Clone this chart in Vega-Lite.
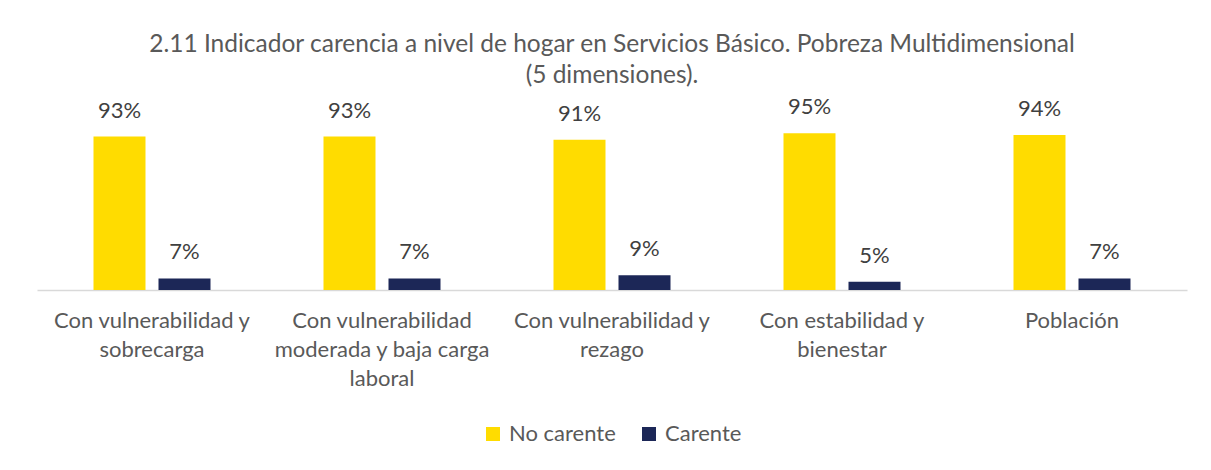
{
  "$schema": "https://vega.github.io/schema/vega-lite/v6.json",
  "autosize": {"type": "none"},
  "width": 1150,
  "height": 165,
  "padding": {"left": 37, "top": 125, "right": 24, "bottom": 180},
  "background": "white",
  "title": {
    "text": ["2.11 Indicador carencia a nivel de hogar en Servicios Básico. Pobreza Multidimensional", "(5 dimensiones)."],
    "anchor": "middle",
    "frame": "group",
    "font": "Lato",
    "fontSize": 24.5,
    "fontWeight": "normal",
    "color": "#595959",
    "lineHeight": 31,
    "offset": 8
  },
  "data": {
    "values": [
      {"grupo": "Con vulnerabilidad y sobrecarga", "tipo": "No carente", "valor": 0.93},
      {"grupo": "Con vulnerabilidad y sobrecarga", "tipo": "Carente", "valor": 0.07},
      {"grupo": "Con vulnerabilidad moderada y baja carga laboral", "tipo": "No carente", "valor": 0.93},
      {"grupo": "Con vulnerabilidad moderada y baja carga laboral", "tipo": "Carente", "valor": 0.07},
      {"grupo": "Con vulnerabilidad y rezago", "tipo": "No carente", "valor": 0.91},
      {"grupo": "Con vulnerabilidad y rezago", "tipo": "Carente", "valor": 0.09},
      {"grupo": "Con estabilidad y bienestar", "tipo": "No carente", "valor": 0.95},
      {"grupo": "Con estabilidad y bienestar", "tipo": "Carente", "valor": 0.05},
      {"grupo": "Población", "tipo": "No carente", "valor": 0.94},
      {"grupo": "Población", "tipo": "Carente", "valor": 0.07}
    ]
  },
  "encoding": {
    "x": {
      "field": "grupo",
      "type": "nominal",
      "sort": null,
      "title": null,
      "scale": {"paddingInner": 0, "paddingOuter": 0},
      "axis": {
        "labelAngle": 0,
        "labelFont": "Lato",
        "labelFontSize": 22,
        "labelColor": "#595959",
        "labelLineHeight": 29,
        "labelPadding": 20,
        "labelLimit": 0,
        "ticks": false,
        "domainColor": "#d9d9d9",
        "domainWidth": 1.5,
        "labelExpr": "datum.value == 'Con vulnerabilidad y sobrecarga' ? ['Con vulnerabilidad y', 'sobrecarga'] : datum.value == 'Con vulnerabilidad moderada y baja carga laboral' ? ['Con vulnerabilidad', 'moderada y baja carga', 'laboral'] : datum.value == 'Con vulnerabilidad y rezago' ? ['Con vulnerabilidad y', 'rezago'] : datum.value == 'Con estabilidad y bienestar' ? ['Con estabilidad y', 'bienestar'] : datum.value"
      }
    },
    "xOffset": {
      "field": "tipo",
      "type": "nominal",
      "sort": ["No carente", "Carente"],
      "scale": {"paddingInner": 0.2, "paddingOuter": 0.869}
    },
    "y": {
      "field": "valor",
      "type": "quantitative",
      "scale": {"domain": [0, 1], "nice": false},
      "axis": null
    }
  },
  "layer": [
    {
      "mark": {"type": "bar"},
      "encoding": {
        "color": {
          "field": "tipo",
          "type": "nominal",
          "sort": ["No carente", "Carente"],
          "scale": {"domain": ["No carente", "Carente"], "range": ["#FFDC00", "#1C2757"]},
          "legend": {
            "title": null,
            "orient": "bottom",
            "direction": "horizontal",
            "symbolType": "square",
            "symbolSize": 196,
            "symbolStrokeWidth": 0,
            "labelFont": "Lato",
            "labelFontSize": 22,
            "labelColor": "#595959",
            "labelOffset": 5,
            "columnPadding": 22,
            "offset": 34
          }
        }
      }
    },
    {
      "mark": {"type": "text", "baseline": "bottom", "dy": -14, "font": "Lato", "fontSize": 22, "color": "#404040"},
      "encoding": {
        "text": {"field": "valor", "type": "quantitative", "format": ".0%"}
      }
    }
  ],
  "config": {
    "view": {"stroke": null},
    "axis": {"grid": false},
    "legend": {"layout": {"bottom": {"anchor": "middle"}}}
  }
}
